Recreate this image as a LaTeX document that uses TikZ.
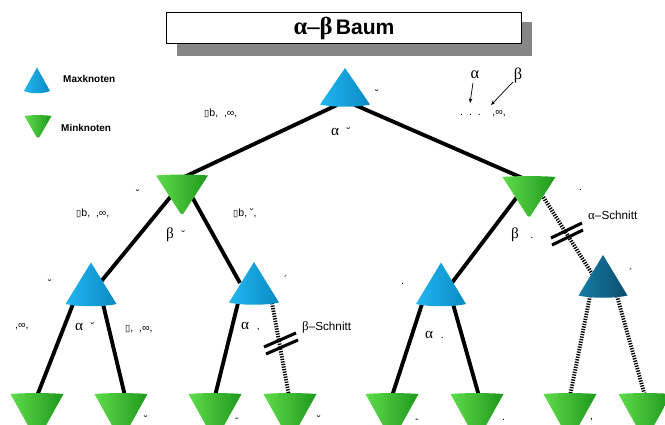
\documentclass[tikz,border=0pt]{standalone}
\usepackage{fontspec}
\setmainfont{Liberation Sans}
\newfontfamily\grk{Liberation Serif}
\newfontfamily\dvs{DejaVu Sans}
\usetikzlibrary{calc,arrows.meta}
\definecolor{maxblue}{HTML}{22B6F0}
\definecolor{maxbluedk}{HTML}{0A8AC4}
\definecolor{mingreen}{HTML}{5EDC4A}
\definecolor{mingreendk}{HTML}{1F981C}
\definecolor{cutblue}{HTML}{167CA4}
\definecolor{cutbluedk}{HTML}{0A4F6E}
\newcommand{\bx}{{\dvs\fontsize{8}{9}\selectfont ▯}}
\begin{document}
\begin{tikzpicture}[x=0.03cm,y=-0.03cm,
  edge/.style={line width=3.3pt},
  cutedge/.style={line width=3.3pt, dash pattern=on 1.1pt off 1.1pt},
  cutmark/.style={line width=2.6pt},
  lbl/.style={inner sep=0pt, anchor=west, font=\fontsize{9}{10}\selectfont},
  glbl/.style={inner sep=0pt, anchor=west, font=\grk\fontsize{13}{14}\selectfont},
  schnitt/.style={inner sep=0pt, anchor=west, font=\fontsize{10}{12}\selectfont},
  legend/.style={inner sep=0pt, anchor=west, font=\bfseries\fontsize{8.5}{10}\selectfont},
  pointer/.style={-{Stealth[length=4pt,width=3pt]}, line width=0.6pt},
  pics/maxtri/.style args={#1/#2/#3/#4}{code={
    \shade[left color=#3, right color=#4]
      (0,-#2) -- (#1,#2-1.5) .. controls (#1*0.5,#2+1.5) and (-#1*0.5,#2+1.5) .. (-#1,#2-1.5) -- cycle;}},
  pics/mintri/.style args={#1/#2/#3/#4}{code={
    \shade[left color=#3, right color=#4]
      (-#1,-#2) .. controls (-#1*0.5,-#2-1.2) and (#1*0.5,-#2-1.2) .. (#1,-#2) -- (1.5,#2-1) .. controls (0.5,#2) and (-0.5,#2) .. (-1.5,#2-1) -- cycle;}},
]
\clip (0,0) rectangle (665,425);
\fill[white] (0,0) rectangle (665,425);

% title
\fill[gray!95] (177,22) rectangle (532,56);
\node[draw=black, fill=white, line width=0.9pt, minimum width=302.6pt, minimum height=27pt, inner sep=0pt]
  (title) at (344,28) {{\grk\bfseries\fontsize{21}{23}\selectfont α–β} {\bfseries\fontsize{18}{20}\selectfont Baum}};

% node positions
\coordinate (root) at (345,87);
\coordinate (L1) at (182,195);
\coordinate (R1) at (529,197);
\coordinate (LL) at (91,284);
\coordinate (LR) at (254,283);
\coordinate (RL) at (441,284);
\coordinate (RR) at (603,276);
\coordinate (leaf1) at (37,417);
\coordinate (leaf2) at (121,417);
\coordinate (leaf3) at (215,417);
\coordinate (leaf4) at (290,417);
\coordinate (leaf5) at (392,417);
\coordinate (leaf6) at (477,417);
\coordinate (leaf7) at (570,417);
\coordinate (leaf8) at (645,417);
\coordinate (legmax) at (37,80);
\coordinate (legmin) at (38,127);

% connectors
\draw[edge] ($(root)+(-8,18)$) -- ($(L1)+(0,-17)$);
\draw[edge] ($(root)+(10,18)$) -- ($(R1)+(-2,-17)$);
\draw[edge] ($(L1)+(-10,0)$) -- ($(LL)+(8,0)$);
\draw[edge] ($(L1)+(9,0)$) -- ($(LR)+(-14,0)$);
\draw[edge] ($(R1)+(-12,0)$) -- ($(RL)+(10,0)$);
\draw[cutedge] ($(R1)+(13,-2)$) -- ($(RR)+(-7,4)$);
\draw[edge] ($(LL)+(-18,20)$) -- ($(leaf1)+(0,-21)$);
\draw[edge] ($(LL)+(12,20)$) -- ($(leaf2)+(4,-21)$);
\draw[edge] ($(LR)+(-16,20)$) -- ($(leaf3)+(0,-21)$);
\draw[cutedge] ($(LR)+(18,20)$) -- ($(leaf4)+(-1,-21)$);
\draw[edge] ($(RL)+(-19,20)$) -- ($(leaf5)+(0,-21)$);
\draw[edge] ($(RL)+(12,20)$) -- ($(leaf6)+(2,-21)$);
\draw[cutedge] ($(RR)+(-13,20)$) -- ($(leaf7)+(0,-21)$);
\draw[cutedge] ($(RR)+(14,20)$) -- ($(leaf8)+(0,-21)$);

% cut marks
\draw[cutmark] (551,238) -- (582,223);
\draw[cutmark] (552,245) -- (583,230);
\draw[cutmark] (264,347) -- (296,333);
\draw[cutmark] (266,354) -- (298,340);

% triangles
\pic at (root) {maxtri={25/19/maxblue/maxbluedk}};
\pic at (L1) {mintri={26/19.5/mingreen/mingreendk}};
\pic at (R1) {mintri={26.5/20/mingreen/mingreendk}};
\pic at (LL) {maxtri={25.5/21.5/maxblue/maxbluedk}};
\pic at (LR) {maxtri={25/21/maxblue/maxbluedk}};
\pic at (RL) {maxtri={25/21.5/maxblue/maxbluedk}};
\pic at (RR) {maxtri={24.5/21/cutblue/cutbluedk}};
\foreach \l in {leaf1,leaf2,leaf3,leaf4,leaf5,leaf6,leaf7,leaf8}
  \pic at (\l) {mintri={26.5/23/mingreen/mingreendk}};
\pic at (legmax) {maxtri={13/12.5/maxblue/maxbluedk}};
\pic at (legmin) {mintri={13.5/11/mingreen/mingreendk}};

% legend
\node[legend] (maxtxt) at (63,79) {Maxknoten};
\node[legend] (mintxt) at (61,128) {Minknoten};

% alpha / beta pointers
\node[inner sep=0pt, font=\grk\fontsize{14}{15}\selectfont] (alab) at (475,75) {α};
\node[inner sep=0pt, font=\grk\fontsize{14}{15}\selectfont] (blab) at (518,75) {β};
\coordinate (atip) at (470,103);
\coordinate (btip) at (491,105);
\draw[pointer] ($(alab)+(-2,8)$) -- (atip);
\draw[pointer] ($(blab)+(-5,7)$) -- (btip);
\node[lbl] (dots) at (460,114) {.\ \ .\ \ .\ \ \ \ ,∞,};

% root labels
\node[lbl] (rootw) at (204,113) {\bx b,\ \ ,∞,};
\node[glbl] (roota) at (331,132) {α\ \ {\rmfamily\fontsize{9}{10}\selectfont ˘}};
\node[lbl] (rootr) at (375,94) {˘};

% L1 labels
\node[lbl] (l1t) at (136,194) {˘};
\node[lbl] (l1w) at (76,213) {\bx b,\ \ ,∞,};
\node[glbl] (l1b) at (166,235) {β\ \ {\rmfamily\fontsize{9}{10}\selectfont ˘}};
\node[lbl] (l1e) at (233,213) {\bx b,\ ˘,};

% R1 labels
\node[lbl] (r1t) at (579,190) {.};
\node[glbl] (r1b) at (511,235) {β\ \ \ {\rmfamily\fontsize{9}{10}\selectfont .}};
\node[schnitt] (aschnitt) at (588,215) {{\grk\fontsize{11}{12}\selectfont α}–Schnitt};

% level 2 labels
\node[lbl] (llt) at (48,284) {˘};
\node[lbl] (llw) at (15,327) {,∞,};
\node[glbl] (lla) at (75,327) {α\ \ {\rmfamily\fontsize{9}{10}\selectfont ˘}};
\node[lbl] (lle) at (125,329) {\bx ,\ \ ,∞,};
\node[lbl] (lrt) at (284,280) {´};
\node[glbl] (lra) at (241,327) {α\ \ {\rmfamily\fontsize{9}{10}\selectfont ,}};
\node[schnitt] (bschnitt) at (302,327) {{\grk\fontsize{11}{12}\selectfont β}–Schnitt};
\node[lbl] (rlt) at (401,284) {.};
\node[glbl] (rla) at (425,335) {α\ \ {\rmfamily\fontsize{9}{10}\selectfont .}};
\node[lbl] (rrt) at (629,273) {´};

% bottom marks
\node[lbl] (m1) at (144,420) {˘};
\node[lbl] (m2) at (235,420) {-};
\node[lbl] (m3) at (317,420) {˘};
\node[lbl] (m4) at (415,421) {-};
\node[lbl] (m5) at (502,420) {.};
\node[lbl] (m6) at (590,420) {,};
\end{tikzpicture}
\end{document}
